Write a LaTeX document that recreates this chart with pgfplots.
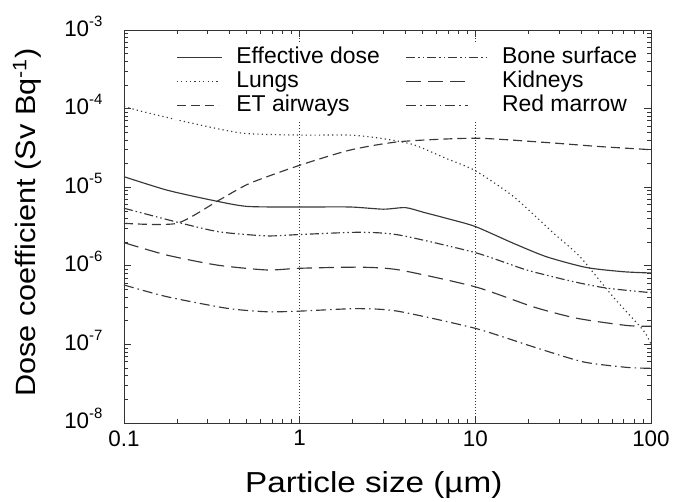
\documentclass[border=0pt]{standalone}
\usepackage{pgfplots}
\pgfplotsset{compat=1.18}
\usepackage{fontspec}
\setmainfont{Liberation Sans}
\newfontfamily\xlblfont{Liberation Sans}[FakeStretch=1.15]
\newfontfamily\ylblfont{Liberation Sans}[FakeStretch=1.1]
\newcommand\sups[1]{\raisebox{10bp}{\fontsize{15}{16}\selectfont #1}}
\pgfplotsset{legline/.style={legend image code/.code={\draw[##1] (0bp,0bp) -- (#1,0bp);}}}
\begin{document}
\begin{tikzpicture}
\path (-124bp,-79bp) rectangle (549bp,423bp);
\begin{axis}[
  at={(0,0)}, anchor=south west,
  scale only axis, width=527bp, height=393bp,
  xmode=log, ymode=log,
  xmin=0.1, xmax=100, ymin=1e-8, ymax=1e-3,
  xtick={0.1,1,10,100}, xticklabels={0.1,1,10,100},
  ytick={1e-8,1e-7,1e-6,1e-5,1e-4,1e-3},
  yticklabels={10\sups{-8},10\sups{-7},10\sups{-6},10\sups{-5},10\sups{-4},10\sups{-3}},
  tick label style={font=\fontsize{22.5}{24}\selectfont},
  /pgf/number format/assume math mode=true,
  yticklabel style={anchor=base east, xshift=-18bp, yshift=-6bp},
  xticklabel style={yshift=-4bp},
  major tick length=7bp, minor tick length=4bp,
  axis line style={line width=0.9bp, black!80},
  every tick/.style={line width=0.7bp, black!80},
  xlabel={\xlblfont\fontsize{29}{32}\selectfont Particle size (µm)},
  ylabel={\ylblfont\fontsize{28}{32}\selectfont Dose coefficient (Sv Bq\textsuperscript{-1})},
  xlabel style={at={(axis description cs:0.474,-0.158)}, anchor=center},
  ylabel style={at={(axis description cs:-0.184,0.51)}, anchor=center},
  legend columns=3, transpose legend,
  legend cell align=left,
  legend style={at={(axis description cs:0.095,0.966)}, anchor=north west,
    draw=none, fill=white, font=\fontsize{23}{24}\selectfont,
    inner sep=2bp, row sep=0bp,
    nodes={text height=16bp, text depth=4bp, inner sep=2bp},
    /tikz/every odd column/.append style={column sep=12bp},
    /tikz/every even column/.append style={column sep=24bp}},
  every axis plot/.append style={line width=1.15bp, black!78},
]
\addplot[forget plot, line width=0.8bp, black!80, dash pattern=on 1bp off 2bp] coordinates {(1,1e-8) (1,1e-3)};
\addplot[forget plot, line width=0.8bp, black!80, dash pattern=on 1bp off 2bp] coordinates {(10,1e-8) (10,1e-3)};

% Effective dose
\addplot[smooth, tension=0.4, legline=45bp] coordinates {
(0.1,1.36e-5) (0.175,9.2e-6) (0.31,6.9e-6) (0.5,5.7e-6) (1,5.6e-6) (1.94,5.6e-6) (3.0,5.25e-6) (4.0,5.5e-6) (5.06,4.8e-6) (6.9,4.0e-6) (10,3.16e-6) (16.5,1.93e-6) (25.5,1.3e-6) (43,9.5e-7) (70,8.4e-7) (100,8.1e-7)};
\addlegendentry{Effective dose}
% Lungs
\addplot[smooth, tension=0.4, dash pattern=on 1.2bp off 3.2bp, legline=42bp] coordinates {
(0.1,1.06e-4) (0.14,8.7e-5) (0.27,6.2e-5) (0.48,4.85e-5) (1,4.6e-5) (1.94,4.6e-5) (2.87,4.2e-5) (4.4,3.5e-5) (6.9,2.3e-5) (10,1.62e-5) (16.5,7.6e-6) (27.9,2.6e-6) (39.5,1.3e-6) (61,4.0e-7) (90.6,1.5e-7) (100,1.0e-7)};
\addlegendentry{Lungs}
% ET airways
\addplot[smooth, tension=0.4, dash pattern=on 9bp off 5bp, legline=42bp] coordinates {
(0.1,3.47e-6) (0.2,3.47e-6) (0.35,6.9e-6) (0.52,1.12e-5) (1,1.9e-5) (1.94,2.97e-5) (3.73,3.8e-5) (10,4.2e-5) (25.5,3.7e-5) (50,3.3e-5) (100,3.0e-5)};
\addlegendentry{ET airways}
% Bone surface
\addplot[smooth, tension=0.4, dash pattern=on 9bp off 3bp on 1.5bp off 3bp on 1.5bp off 3bp, legline=81bp] coordinates {
(0.1,5.4e-6) (0.21,3.5e-6) (0.35,2.7e-6) (0.65,2.4e-6) (1,2.5e-6) (2.2,2.67e-6) (3.7,2.46e-6) (10,1.47e-6) (19.6,8.85e-7) (36,6.3e-7) (56,5.2e-7) (100,4.55e-7)};
\addlegendentry{Bone surface}
% Kidneys
\addplot[smooth, tension=0.4, dash pattern=on 15bp off 7bp, legline=65bp] coordinates {
(0.1,1.97e-6) (0.175,1.37e-6) (0.34,1.02e-6) (0.65,8.85e-7) (1,9.3e-7) (2.2,9.6e-7) (3.7,8.85e-7) (10,5.4e-7) (21.4,3.0e-7) (37.8,2.15e-7) (72.8,1.74e-7) (100,1.7e-7)};
\addlegendentry{Kidneys}
% Red marrow
\addplot[smooth, tension=0.4, dash pattern=on 10bp off 4bp on 1.5bp off 4bp, legline=62bp] coordinates {
(0.1,5.7e-7) (0.175,4.05e-7) (0.385,2.88e-7) (0.65,2.6e-7) (1,2.65e-7) (2.1,2.85e-7) (3.6,2.65e-7) (10,1.6e-7) (21.4,9.3e-8) (41,6.0e-8) (72.8,5.1e-8) (100,4.96e-8)};
\addlegendentry{Red marrow}
\end{axis}
\end{tikzpicture}
\end{document}
